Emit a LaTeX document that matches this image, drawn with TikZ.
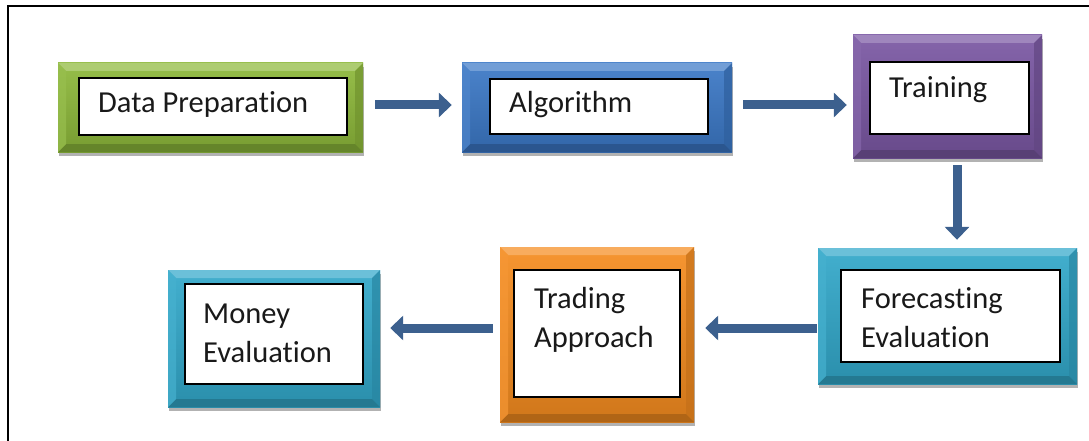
\documentclass[tikz,border=0pt]{standalone}
\usepackage{fontspec}
\setmainfont{Carlito}[Ligatures=NoCommon]
\usetikzlibrary{arrows.meta,shadows}
\definecolor{cgreen}{HTML}{8DB83A}
\definecolor{cblue}{HTML}{3B78C6}
\definecolor{cpurple}{HTML}{7A57A3}
\definecolor{cteal}{HTML}{32A8CA}
\definecolor{corange}{HTML}{F58C1F}
\definecolor{arrowc}{RGB}{60,96,142}
\tikzset{
 bev/.style={inner sep=0pt, draw=none,
   drop shadow={shadow xshift=1pt, shadow yshift=-4pt, opacity=0.3, fill=black},
   path picture={
     \coordinate (pSW) at (path picture bounding box.south west);
     \coordinate (pNE) at (path picture bounding box.north east);
     \coordinate (pNW) at (path picture bounding box.north west);
     \coordinate (pSE) at (path picture bounding box.south east);
     \shade[top color=#1!92!white, bottom color=#1!85!black] (pSW) rectangle (pNE);
     \fill[#1!72!white] (pNW) -- (pNE) -- ([shift={(-8pt,-8pt)}]pNE) -- ([shift={(8pt,-8pt)}]pNW) -- cycle;
     \fill[#1!72!black] (pSW) -- (pSE) -- ([shift={(-8pt,8pt)}]pSE) -- ([shift={(8pt,8pt)}]pSW) -- cycle;
     \fill[#1!90!white, opacity=.7] (pNW) -- ([shift={(8pt,-8pt)}]pNW) -- ([shift={(8pt,8pt)}]pSW) -- (pSW) -- cycle;
     \fill[#1!80!black, opacity=.7] (pNE) -- ([shift={(-8pt,-8pt)}]pNE) -- ([shift={(-8pt,8pt)}]pSE) -- (pSE) -- cycle;
   }},
 ibox/.style={draw=black, line width=1.2pt, fill=white, inner sep=0pt},
 lbl/.style={anchor=base west, inner sep=0pt, font=\fontsize{30.5}{36}\selectfont, text=black!90},
 arr/.style={line width=9pt, draw=arrowc, -{Triangle[width=24pt,length=13pt]}},
}
\begin{document}
\begin{tikzpicture}[x=1pt,y=-1pt]
\useasboundingbox (0,0) rectangle (1089,441);
\draw[line width=2.5pt] (8,441) -- (8,6) -- (1089,6);

% boxes
\node[bev=cgreen, minimum width=305pt, minimum height=89pt] (dp) at (210.5,107.5) {};
\node[ibox, minimum width=268pt, minimum height=57pt] (dpi) at (213,106.5) {};
\node[lbl] (dpt) at (98,113) {Data Preparation};

\node[bev=cblue, minimum width=270pt, minimum height=89pt] (alg) at (597,107.5) {};
\node[ibox, minimum width=218pt, minimum height=55pt] (algi) at (599,106.5) {};
\node[lbl] (algt) at (509,113) {Algorithm};

\node[bev=cpurple, minimum width=189pt, minimum height=123pt] (tr) at (947.5,96.5) {};
\node[ibox, minimum width=159pt, minimum height=72pt] (tri) at (949.5,98) {};
\node[lbl] (trt) at (889,98) {Training};

\node[bev=cteal, minimum width=259pt, minimum height=136pt] (fe) at (947.5,316) {};
\node[ibox, minimum width=219pt, minimum height=92pt] (fei) at (950.5,316) {};
\node[lbl] (fet1) at (861,308) {Forecasting};
\node[lbl] (fet2) at (861,347.5) {Evaluation};

\node[bev=corange, minimum width=194pt, minimum height=175pt] (ta) at (597,334.5) {};
\node[ibox, minimum width=166pt, minimum height=127pt] (tai) at (597,333.5) {};
\node[lbl] (tat1) at (534,308) {Trading};
\node[lbl] (tat2) at (534,347.5) {Approach};

\node[bev=cteal, minimum width=212pt, minimum height=137pt] (me) at (274,338.5) {};
\node[ibox, minimum width=178pt, minimum height=100pt] (mei) at (274,334) {};
\node[lbl] (met1) at (203,323) {Money};
\node[lbl] (met2) at (203,362) {Evaluation};

% arrows
\coordinate (ya) at (0,328);
\draw[arr, shorten <=12pt, shorten >=10pt] ([yshift=2.5pt]dp.east) -- ([yshift=2.5pt]alg.west);
\draw[arr, shorten <=11pt, shorten >=6pt] ([yshift=2.5pt]alg.east) -- ([yshift=2.5pt]alg.east -| tr.west);
\draw[arr, shorten <=7pt, shorten >=8pt] ([xshift=9.5pt]tr.south) -- ([xshift=9.5pt]fe.north);
\draw[arr, shorten <=1pt, shorten >=11pt] (fe.west |- ya) -- (ta.east |- ya);
\draw[arr, shorten <=7pt, shorten >=10pt] (ta.west |- ya) -- (me.east |- ya);
\end{tikzpicture}
\end{document}
